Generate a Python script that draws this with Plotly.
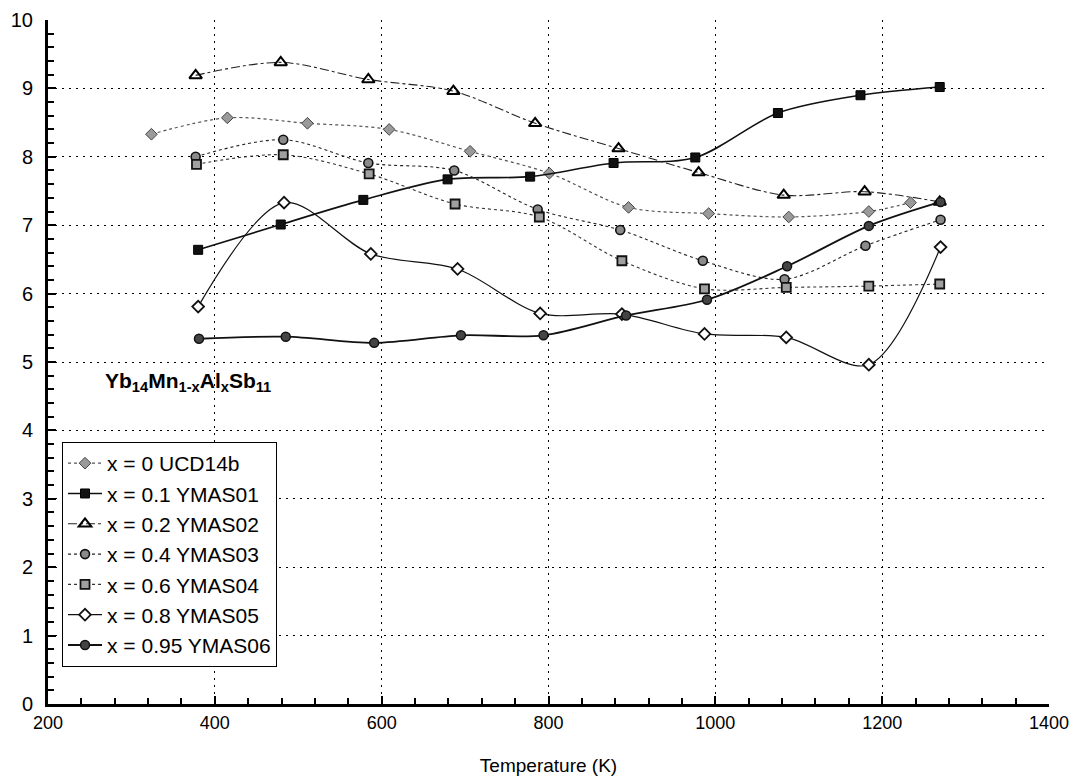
import plotly.graph_objects as go

# Temperatures (K) and values for each Yb14Mn1-xAlxSb11 sample
t_ucd14b = [324, 415, 511, 609, 706, 801, 896, 992, 1088, 1184, 1234]
v_ucd14b = [8.33, 8.57, 8.49, 8.40, 8.08, 7.76, 7.26, 7.17, 7.12, 7.20, 7.33]

t_ymas01 = [380, 479, 578, 679, 778, 878, 976, 1075, 1174, 1269]
v_ymas01 = [6.64, 7.01, 7.37, 7.67, 7.71, 7.91, 7.99, 8.64, 8.90, 9.02]

t_ymas02 = [377, 479, 584, 686, 784, 884, 980, 1082, 1179, 1269]
v_ymas02 = [9.19, 9.38, 9.13, 8.96, 8.49, 8.12, 7.77, 7.44, 7.49, 7.34]

t_ymas03 = [377, 482, 584, 687, 787, 886, 985, 1083, 1180, 1270]
v_ymas03 = [8.00, 8.25, 7.91, 7.80, 7.23, 6.93, 6.48, 6.21, 6.70, 7.08]

t_ymas04 = [378, 482, 585, 688, 789, 888, 987, 1085, 1184, 1269]
v_ymas04 = [7.89, 8.03, 7.75, 7.31, 7.12, 6.48, 6.07, 6.09, 6.11, 6.14]

t_ymas05 = [380, 483, 587, 691, 790, 888, 987, 1085, 1184, 1270]
v_ymas05 = [5.81, 7.33, 6.58, 6.36, 5.71, 5.70, 5.41, 5.36, 4.96, 6.68]

t_ymas06 = [381, 485, 591, 695, 794, 893, 990, 1086, 1184, 1270]
v_ymas06 = [5.34, 5.37, 5.28, 5.39, 5.39, 5.68, 5.91, 6.40, 6.99, 7.34]

series_names = [
    "x = 0 UCD14b",
    "x = 0.1 YMAS01",
    "x = 0.2 YMAS02",
    "x = 0.4 YMAS03",
    "x = 0.6 YMAS04",
    "x = 0.8 YMAS05",
    "x = 0.95 YMAS06",
]

x_ticks = [200, 400, 600, 800, 1000, 1200, 1400]
y_ticks = [0, 1, 2, 3, 4, 5, 6, 7, 8, 9, 10]

styles = [
    dict(line=dict(color="#555555", width=1.2, dash="dot"),
         marker=dict(symbol="diamond", size=9, color="#9a9a9a", line=dict(color="#444444", width=1))),
    dict(line=dict(color="#111111", width=1.6, dash="solid"),
         marker=dict(symbol="square", size=9, color="#111111", line=dict(color="#000000", width=1))),
    dict(line=dict(color="#222222", width=1.1, dash="dashdot"),
         marker=dict(symbol="triangle-up-open", size=11, color="#000000", line=dict(color="#000000", width=2))),
    dict(line=dict(color="#222222", width=1.1, dash="dot"),
         marker=dict(symbol="circle", size=9, color="#8a8a8a", line=dict(color="#111111", width=1.6))),
    dict(line=dict(color="#333333", width=1.1, dash="dot"),
         marker=dict(symbol="square", size=9, color="#a0a0a0", line=dict(color="#111111", width=1.8))),
    dict(line=dict(color="#111111", width=1.2, dash="solid"),
         marker=dict(symbol="diamond", size=9, color="#ffffff", line=dict(color="#111111", width=1.8))),
    dict(line=dict(color="#111111", width=1.8, dash="solid"),
         marker=dict(symbol="circle", size=9, color="#444444", line=dict(color="#111111", width=1.5))),
]

data = [
    (t_ucd14b, v_ucd14b),
    (t_ymas01, v_ymas01),
    (t_ymas02, v_ymas02),
    (t_ymas03, v_ymas03),
    (t_ymas04, v_ymas04),
    (t_ymas05, v_ymas05),
    (t_ymas06, v_ymas06),
]

fig = go.Figure()
for name, (tx, vy), st in zip(series_names, data, styles):
    fig.add_trace(go.Scatter(
        x=tx, y=vy, name=name, mode="lines+markers",
        line=dict(shape="spline", smoothing=0.9, **st["line"]),
        marker=st["marker"],
    ))

sans = "Liberation Sans, Arial, sans-serif"

fig.update_xaxes(
    range=[200, 1400], tickvals=x_ticks, ticktext=[str(v) for v in x_ticks],
    showline=True, linecolor="#000000", linewidth=3, automargin=False,
    ticks="inside", ticklen=8, tickwidth=1.5, tickcolor="#000000",
    minor=dict(dtick=40, tick0=200, ticks="inside", ticklen=6, tickwidth=1.5, tickcolor="#000000", showgrid=False),
    showgrid=True, gridcolor="#000000", gridwidth=1.2, griddash="2px,5px",
    zeroline=False, tickfont=dict(family=sans, size=18, color="#000000"),
    title=dict(text="Temperature (K)", font=dict(family=sans, size=19, color="#000000"), standoff=28),
)
fig.update_yaxes(
    range=[0, 10], tickvals=y_ticks, ticktext=[str(v) for v in y_ticks],
    showline=True, linecolor="#000000", linewidth=3, automargin=False,
    ticks="inside", ticklen=8, tickwidth=1.5, tickcolor="#000000",
    minor=dict(dtick=0.2, tick0=0, ticks="inside", ticklen=6, tickwidth=1.5, tickcolor="#000000", showgrid=False),
    showgrid=True, gridcolor="#000000", gridwidth=1.2, griddash="2px,5px",
    zeroline=False, tickfont=dict(family=sans, size=20, color="#000000"), ticklabelstandoff=8,
)

fig.add_annotation(
    x=266, y=4.71, xref="x", yref="y", xanchor="left", yanchor="middle",
    text="<b>Yb<sub>14</sub>Mn<sub>1-x</sub>Al<sub>x</sub>Sb<sub>11</sub></b>",
    showarrow=False, font=dict(family=sans, size=21, color="#000000"),
)

fig.update_layout(
    width=1073, height=779,
    margin=dict(l=48, r=24, t=20, b=75),
    paper_bgcolor="#ffffff", plot_bgcolor="#ffffff",
    showlegend=True,
    legend=dict(
        x=0.014, y=0.383, xanchor="left", yanchor="top",
        bgcolor="#ffffff", bordercolor="#000000", borderwidth=1,
        font=dict(family=sans, size=21, color="#000000"),
        tracegroupgap=0, itemwidth=34,
    ),
)

fig.write_html("out.html")
